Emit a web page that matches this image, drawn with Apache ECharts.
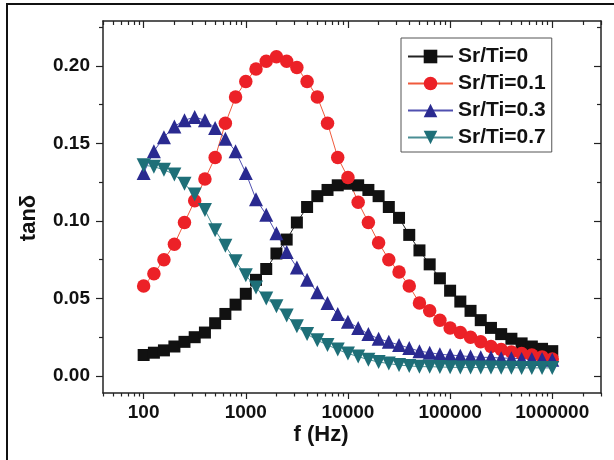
<!DOCTYPE html>
<html>
<head>
<meta charset="utf-8">
<script src="https://cdn.jsdelivr.net/npm/echarts@6/dist/echarts.min.js"></script>
<style>
  html, body { margin: 0; padding: 0; background: #fff; }
  #main { width: 614px; height: 460px; }
</style>
</head>
<body>
<div id="main"></div>
<script>
// frequencies (Hz), 10 points per decade
const freq = [100, 126, 158, 200, 251, 316, 398, 501, 631, 794,
  1000, 1259, 1585, 1995, 2512, 3162, 3981, 5012, 6310, 7943,
  10000, 12589, 15849, 19953, 25119, 31623, 39811, 50119, 63096, 79433,
  100000, 125893, 158489, 199526, 251189, 316228, 398107, 501187, 630957, 794328,
  1000000];

const seriesNames = ['Sr/Ti=0', 'Sr/Ti=0.1', 'Sr/Ti=0.3', 'Sr/Ti=0.7'];

const tanSr0 = [0.0135, 0.015, 0.0165, 0.019, 0.022, 0.025, 0.028, 0.034, 0.040, 0.046,
  0.053, 0.062, 0.069, 0.079, 0.088, 0.099, 0.109, 0.116, 0.120, 0.123,
  0.124, 0.123, 0.120, 0.116, 0.109, 0.102, 0.091, 0.081, 0.072, 0.063,
  0.055, 0.048, 0.042, 0.036, 0.031, 0.027, 0.024, 0.021, 0.019, 0.0175,
  0.016];
const tanSr01 = [0.058, 0.066, 0.075, 0.085, 0.099, 0.113, 0.127, 0.141, 0.163, 0.180,
  0.190, 0.198, 0.203, 0.206, 0.203, 0.199, 0.190, 0.180, 0.163, 0.141,
  0.128, 0.112, 0.099, 0.086, 0.075, 0.067, 0.058, 0.047, 0.042, 0.036,
  0.031, 0.028, 0.025, 0.022, 0.019, 0.017, 0.0155, 0.0145, 0.0135, 0.0123,
  0.011];
const tanSr03 = [0.131, 0.145, 0.154, 0.161, 0.165, 0.167, 0.165, 0.160, 0.153, 0.145,
  0.131, 0.114, 0.104, 0.092, 0.080, 0.070, 0.062, 0.054, 0.047, 0.040,
  0.035, 0.031, 0.027, 0.024, 0.022, 0.020, 0.018, 0.016, 0.015, 0.014,
  0.0135, 0.013, 0.0125, 0.012, 0.012, 0.0115, 0.0115, 0.011, 0.011, 0.011,
  0.0105];
const tanSr07 = [0.136, 0.135, 0.133, 0.130, 0.124, 0.117, 0.107, 0.094, 0.084, 0.074,
  0.065, 0.057, 0.050, 0.045, 0.039, 0.032, 0.027, 0.023, 0.020, 0.017,
  0.0145, 0.0125, 0.0105, 0.009, 0.008, 0.007, 0.0065, 0.006, 0.006, 0.0058,
  0.0056, 0.0055, 0.0055, 0.0054, 0.0054, 0.0053, 0.0053, 0.0052, 0.0052, 0.0052,
  0.0052];

// axis ticks
const xTicks = [100, 1000, 10000, 100000, 1000000];
const xRange = [40, 3000000];
const yTicks = [0, 0.05, 0.10, 0.15, 0.20];
const yMinorTicks = [0.025, 0.075, 0.125, 0.175, 0.225];
const yRange = [-0.011, 0.229];

// minor log ticks 2..9 of each decade inside the range
const xMinorTicks = [];
for (let d = 10; d <= 1000000; d *= 10) {
  for (let k = 2; k <= 9; k++) {
    const v = k * d;
    if (v >= xRange[0] && v <= xRange[1]) xMinorTicks.push(v);
  }
}

const lg = Math.log10;
const FONT = 'Liberation Sans, Arial, sans-serif';
const AXIS_COLOR = '#222';

const myChart = echarts.init(document.getElementById('main'), null, {renderer: 'canvas'});

function xAxisOf(pos, ticks, len, inside, withLabel, withLine) {
  return {
    type: 'value',
    position: pos,
    min: lg(xRange[0]),
    max: lg(xRange[1]),
    axisLine: {show: withLine, onZero: false, lineStyle: {color: AXIS_COLOR, width: 1.5}},
    axisTick: {show: true, inside: inside, length: len, customValues: ticks.map(lg),
      lineStyle: {color: AXIS_COLOR, width: 1.2}},
    axisLabel: {
      show: withLabel,
      customValues: ticks.map(lg),
      margin: 10,
      color: '#111',
      fontFamily: FONT,
      fontWeight: 'bold',
      fontSize: 19,
      formatter: function (v) { return String(Math.round(Math.pow(10, v))); }
    },
    splitLine: {show: false}
  };
}

function yAxisOf(pos, ticks, len, inside, withLabel, withLine) {
  return {
    type: 'value',
    position: pos,
    min: yRange[0],
    max: yRange[1],
    axisLine: {show: withLine, onZero: false, lineStyle: {color: AXIS_COLOR, width: 1.5}},
    axisTick: {show: true, inside: inside, length: len, customValues: ticks,
      lineStyle: {color: AXIS_COLOR, width: 1.2}},
    axisLabel: {
      show: withLabel,
      customValues: ticks,
      margin: 13,
      color: '#111',
      fontFamily: FONT,
      fontWeight: 'bold',
      fontSize: 19,
      formatter: function (v) { return v.toFixed(2); }
    },
    splitLine: {show: false}
  };
}

function makeSeries(name, values, symbol, size, fill, line, rotate) {
  return {
    name: name,
    type: 'line',
    xAxisIndex: 0,
    yAxisIndex: 0,
    data: freq.map(function (f, i) { return [lg(f), values[i]]; }),
    symbol: symbol,
    symbolSize: size,
    symbolRotate: rotate || 0,
    showAllSymbol: true,
    itemStyle: {color: fill, borderWidth: 0},
    lineStyle: {color: line, width: 1},
    emphasis: {disabled: true}
  };
}

const option = {
  animation: false,
  backgroundColor: '#fff',
  grid: {left: 103, top: 21, right: 13, bottom: 67, containLabel: false, outerBoundsMode: 'none'},
  xAxis: [
    xAxisOf('bottom', xTicks, 6, false, true, true),
    xAxisOf('bottom', xMinorTicks, 3.5, false, false, false),
    xAxisOf('top', xTicks, 7, true, false, true),
    xAxisOf('top', xMinorTicks, 4, true, false, false)
  ],
  yAxis: [
    yAxisOf('left', yTicks, 7, false, true, true),
    yAxisOf('left', yMinorTicks, 4, false, false, false),
    yAxisOf('right', yTicks, 7, true, false, true),
    yAxisOf('right', yMinorTicks, 4, true, false, false)
  ],
  legend: {
    left: 401,
    top: 38,
    orient: 'vertical',
    padding: [8, 6, 4, 6],
    itemGap: 6,
    itemWidth: 45,
    itemHeight: 17,
    borderColor: '#555',
    borderWidth: 1,
    borderRadius: 0,
    selectedMode: false,
    data: seriesNames,
    textStyle: {color: '#111', fontFamily: FONT, fontWeight: 'bold', fontSize: 21, lineHeight: 21}
  },
  series: [
    makeSeries(seriesNames[0], tanSr0, 'rect', 12, '#111111', '#222222'),
    makeSeries(seriesNames[1], tanSr01, 'circle', 13.5, '#ec2127', '#f05a3c'),
    makeSeries(seriesNames[2], tanSr03, 'triangle', 14, '#2a2a90', '#5050b0'),
    makeSeries(seriesNames[3], tanSr07, 'triangle', 14, '#1e6f78', '#4a8e94', 180)
  ],
  graphic: [
    {
      type: 'polyline',
      shape: {points: [[7, 460], [7, 4], [614, 4]]},
      style: {stroke: '#111', lineWidth: 2, fill: null},
      silent: true
    },
    {
      type: 'text',
      x: 321,
      y: 435,
      style: {text: 'f (Hz)', fill: '#111', font: 'bold 22px ' + FONT, align: 'center', verticalAlign: 'middle'},
      silent: true
    },
    {
      type: 'text',
      x: 29,
      y: 218,
      rotation: Math.PI / 2,
      style: {text: 'tanδ', fill: '#111', font: 'bold 22px ' + FONT, align: 'center', verticalAlign: 'middle'},
      silent: true
    }
  ]
};

myChart.setOption(option);
window.addEventListener('resize', function () {
  myChart.resize();
});
</script>
</body>
</html>
